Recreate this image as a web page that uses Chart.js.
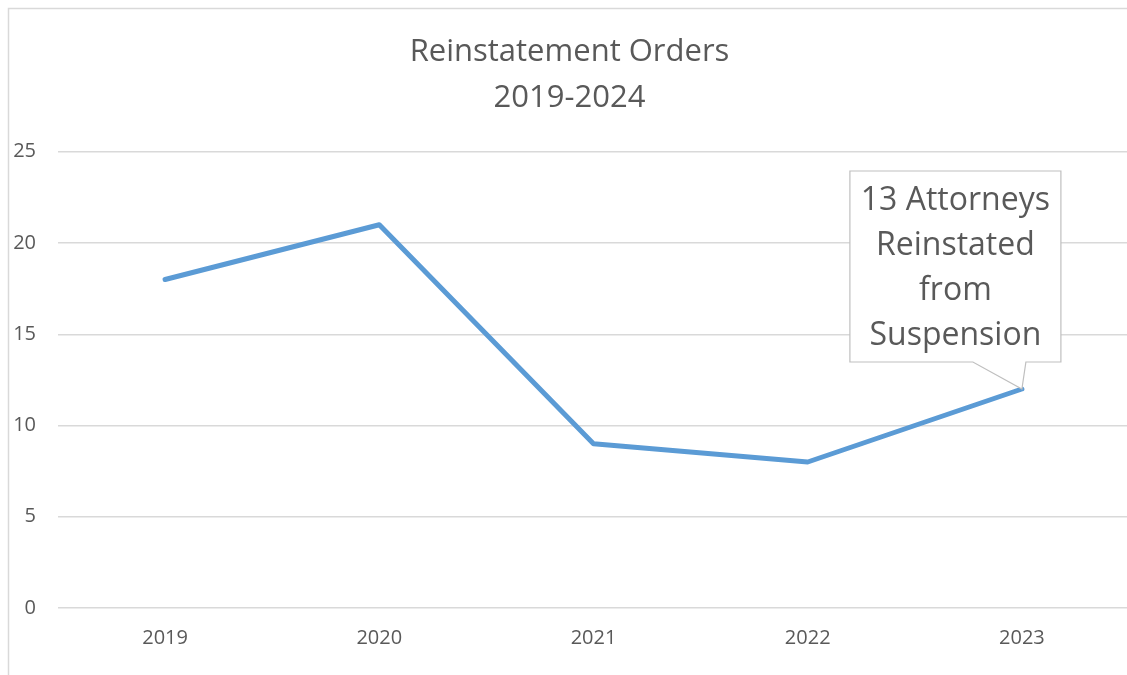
<!DOCTYPE html>
<html>
<head>
<meta charset="utf-8">
<script src="https://cdn.jsdelivr.net/npm/chart.js@4"></script>
<style>
  html, body { margin: 0; padding: 0; background: #fff; overflow: hidden; }
  #myChart { position: absolute; left: 0; top: 0; }
</style>
</head>
<body>
<canvas id="myChart" width="1140" height="690"></canvas>
<script>
var years = ['2019', '2020', '2021', '2022', '2023'];
var orders = [18, 21, 9, 8, 12];
var yTicks = [0, 5, 10, 15, 20, 25];
var calloutLines = ['13 Attorneys', 'Reinstated', 'from', 'Suspension'];

var textColor = '#595959';
var fontName = "'Open Sans', 'Noto Sans', sans-serif";

// frame round the whole chart (left and top edges are visible)
var framePlugin = {
  id: 'frame',
  beforeDraw: function(chart) {
    var ctx = chart.ctx;
    ctx.save();
    ctx.strokeStyle = '#d9d9d9';
    ctx.lineWidth = 1.5;
    ctx.strokeRect(8.5, 8.5, chart.width + 20, chart.height + 20);
    ctx.restore();
  }
};

// data callout for the last point
var calloutPlugin = {
  id: 'callout',
  afterDatasetsDraw: function(chart) {
    var meta = chart.getDatasetMeta(0);
    var pt = meta.data[meta.data.length - 1];
    var ctx = chart.ctx;
    var left = pt.x - 172, right = pt.x + 39, top = pt.y - 218, bottom = pt.y - 27;
    ctx.save();
    ctx.fillStyle = '#fff';
    ctx.strokeStyle = '#bfbfbf';
    ctx.lineWidth = 1.2;
    ctx.beginPath();
    ctx.moveTo(left, top);
    ctx.lineTo(right, top);
    ctx.lineTo(right, bottom);
    ctx.lineTo(pt.x + 4, bottom);
    ctx.lineTo(pt.x, pt.y);
    ctx.lineTo(pt.x - 49, bottom);
    ctx.lineTo(left, bottom);
    ctx.closePath();
    ctx.fill();
    ctx.stroke();
    ctx.fillStyle = textColor;
    ctx.font = '32px ' + fontName;
    ctx.textAlign = 'center';
    ctx.textBaseline = 'middle';
    var cx = (left + right) / 2;
    for (var i = 0; i < calloutLines.length; i++) {
      ctx.fillText(calloutLines[i], cx, top + 30 + i * 45);
    }
    ctx.restore();
  }
};

var ctx = document.getElementById('myChart').getContext('2d');
var myChart = new Chart(ctx, {
  type: 'line',
  data: {
    labels: years,
    datasets: [{
      label: 'Reinstatement Orders',
      data: orders,
      borderColor: '#5b9bd5',
      borderWidth: 5,
      borderCapStyle: 'round',
      borderJoinStyle: 'round',
      pointRadius: 0,
      tension: 0,
      fill: false
    }]
  },
  options: {
    responsive: false,
    animation: false,
    layout: { padding: { left: 10, right: 11, top: 18, bottom: 30 } },
    plugins: {
      legend: { display: false },
      tooltip: { enabled: false },
      title: {
        display: true,
        text: ['Reinstatement Orders', '2019-2024'],
        color: textColor,
        font: { family: fontName, size: 31, weight: 'normal', lineHeight: 1.48 },
        padding: { top: 11, bottom: 31 }
      }
    },
    scales: {
      x: {
        offset: true,
        grid: { display: false },
        border: { display: false },
        ticks: { color: textColor, font: { family: fontName, size: 20 }, padding: 10 }
      },
      y: {
        min: 0,
        max: 25,
        afterBuildTicks: function(axis) {
          axis.ticks = yTicks.map(function(v) { return { value: v }; });
        },
        afterFit: function(axis) {
          axis.width = 48;
        },
        grid: { color: '#d9d9d9', lineWidth: 1.5, drawTicks: false },
        border: { display: false },
        ticks: { color: textColor, font: { family: fontName, size: 20 }, padding: 22 }
      }
    }
  },
  plugins: [framePlugin, calloutPlugin]
});
</script>
</body>
</html>
